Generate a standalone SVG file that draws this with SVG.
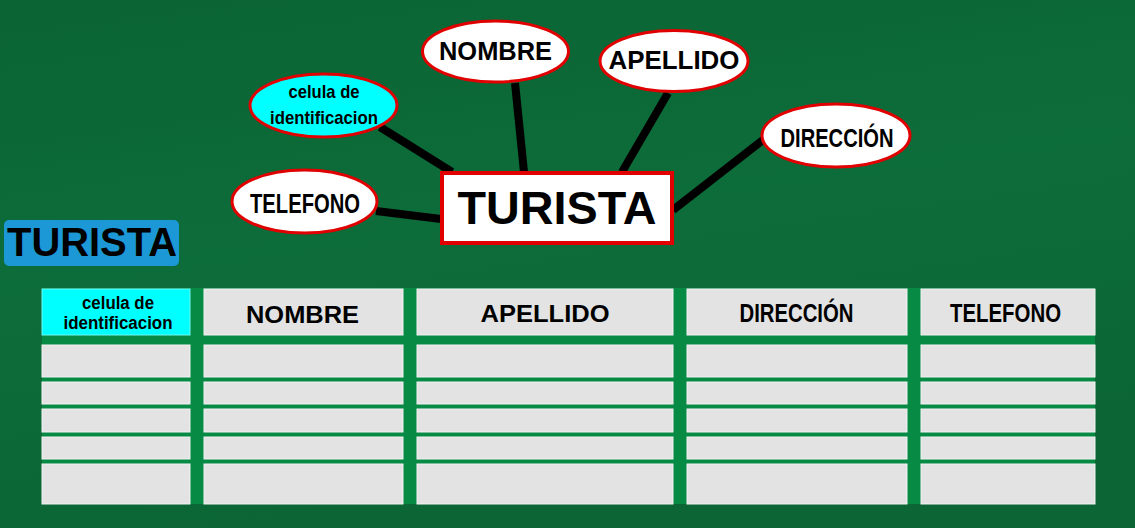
<svg xmlns="http://www.w3.org/2000/svg" width="1135" height="528" viewBox="0 0 1135 528">
<defs>
<linearGradient id="bg" x1="0" y1="0" x2="0.3" y2="1">
<stop offset="0" stop-color="#0a6433"/>
<stop offset="0.5" stop-color="#0d6d3a"/>
<stop offset="1" stop-color="#0b6535"/>
</linearGradient>
<style>
.ell{fill:#ffffff;stroke:#e00000;stroke-width:3}
.cyan{fill:#00ffff}
.lbl{font-family:"Liberation Sans",Arial,sans-serif;font-weight:bold;fill:#000;text-anchor:middle}
.nar{font-family:"Liberation Sans Narrow","Liberation Sans",Arial,sans-serif;font-weight:bold;fill:#000;text-anchor:middle}
.conn{stroke:#000;stroke-width:8;fill:none}
.cell{fill:#e3e3e3;stroke:#f2f2f2;stroke-width:1}
.hcyan{fill:#00ffff;stroke:#6ff7f7;stroke-width:1}
</style>
</defs>
<rect width="1135" height="528" fill="url(#bg)"/>

<g id="connectors">
<line class="conn" x1="515" y1="83" x2="524" y2="172"/>
<line class="conn" x1="668" y1="93" x2="622" y2="172"/>
<line class="conn" x1="380" y1="127" x2="452" y2="172"/>
<line class="conn" x1="376" y1="211" x2="441" y2="219"/>
<line class="conn" x1="763" y1="140" x2="673" y2="210"/>
</g>

<g id="node-turista">
<rect x="442" y="173" width="230" height="70" fill="#ffffff" stroke="#e00000" stroke-width="4"/>
<text class="lbl" x="557" y="224" font-size="46" textLength="199" lengthAdjust="spacingAndGlyphs">TURISTA</text>
</g>

<g id="node-nombre">
<ellipse class="ell" cx="495.5" cy="51.5" rx="73" ry="30.5"/>
<text class="lbl" x="495.5" y="60" font-size="25" textLength="113" lengthAdjust="spacingAndGlyphs">NOMBRE</text>
</g>

<g id="node-apellido">
<ellipse class="ell" cx="674" cy="61" rx="74" ry="30.5"/>
<text class="lbl" x="674" y="69" font-size="25" textLength="131" lengthAdjust="spacingAndGlyphs">APELLIDO</text>
</g>

<g id="node-celula">
<ellipse class="ell cyan" cx="323.5" cy="105.5" rx="73.5" ry="31.5"/>
<text class="nar" x="324" y="98" font-size="19" textLength="71" lengthAdjust="spacingAndGlyphs">celula de</text>
<text class="nar" x="324" y="124" font-size="19" textLength="108" lengthAdjust="spacingAndGlyphs">identificacion</text>
</g>

<g id="node-telefono">
<ellipse class="ell" cx="304.5" cy="201.5" rx="72.5" ry="31.5"/>
<text class="nar" x="305" y="212.5" font-size="27" textLength="110" lengthAdjust="spacingAndGlyphs">TELEFONO</text>
</g>

<g id="node-direccion">
<ellipse class="ell" cx="836" cy="135.5" rx="74" ry="31.5"/>
<text class="nar" x="837" y="147" font-size="26" textLength="113" lengthAdjust="spacingAndGlyphs">DIRECCIÓN</text>
</g>

<g id="title">
<rect x="4" y="220" width="175" height="46" rx="5" fill="#1b98d5"/>
<text class="lbl" x="92" y="256" font-size="41" textLength="170" lengthAdjust="spacingAndGlyphs">TURISTA</text>
</g>

<g id="table">
<rect x="42" y="288" width="1053" height="216" fill="#078a44"/>
<rect class="hcyan" x="42" y="289" width="148" height="46"/>
<rect class="cell" x="204" y="289" width="199" height="46"/>
<rect class="cell" x="417" y="289" width="256" height="46"/>
<rect class="cell" x="687" y="289" width="220" height="46"/>
<rect class="cell" x="921" y="289" width="174" height="46"/>
<text class="nar" x="118" y="309" font-size="18" textLength="72" lengthAdjust="spacingAndGlyphs">celula de</text>
<text class="nar" x="118" y="329" font-size="18" textLength="109" lengthAdjust="spacingAndGlyphs">identificacion</text>
<text class="lbl" x="302.5" y="323" font-size="24" textLength="113" lengthAdjust="spacingAndGlyphs">NOMBRE</text>
<text class="lbl" x="545" y="322" font-size="24" textLength="129" lengthAdjust="spacingAndGlyphs">APELLIDO</text>
<text class="nar" x="796.5" y="322" font-size="25" textLength="114" lengthAdjust="spacingAndGlyphs">DIRECCIÓN</text>
<text class="nar" x="1005.5" y="322" font-size="25" textLength="111" lengthAdjust="spacingAndGlyphs">TELEFONO</text>
<g id="rows">
<rect class="cell" x="42" y="345" width="148" height="32"/>
<rect class="cell" x="204" y="345" width="199" height="32"/>
<rect class="cell" x="417" y="345" width="256" height="32"/>
<rect class="cell" x="687" y="345" width="220" height="32"/>
<rect class="cell" x="921" y="345" width="174" height="32"/>
<rect class="cell" x="42" y="382" width="148" height="22"/>
<rect class="cell" x="204" y="382" width="199" height="22"/>
<rect class="cell" x="417" y="382" width="256" height="22"/>
<rect class="cell" x="687" y="382" width="220" height="22"/>
<rect class="cell" x="921" y="382" width="174" height="22"/>
<rect class="cell" x="42" y="409" width="148" height="23"/>
<rect class="cell" x="204" y="409" width="199" height="23"/>
<rect class="cell" x="417" y="409" width="256" height="23"/>
<rect class="cell" x="687" y="409" width="220" height="23"/>
<rect class="cell" x="921" y="409" width="174" height="23"/>
<rect class="cell" x="42" y="437" width="148" height="22"/>
<rect class="cell" x="204" y="437" width="199" height="22"/>
<rect class="cell" x="417" y="437" width="256" height="22"/>
<rect class="cell" x="687" y="437" width="220" height="22"/>
<rect class="cell" x="921" y="437" width="174" height="22"/>
<rect class="cell" x="42" y="464" width="148" height="40"/>
<rect class="cell" x="204" y="464" width="199" height="40"/>
<rect class="cell" x="417" y="464" width="256" height="40"/>
<rect class="cell" x="687" y="464" width="220" height="40"/>
<rect class="cell" x="921" y="464" width="174" height="40"/>
</g>
</g>
</svg>
